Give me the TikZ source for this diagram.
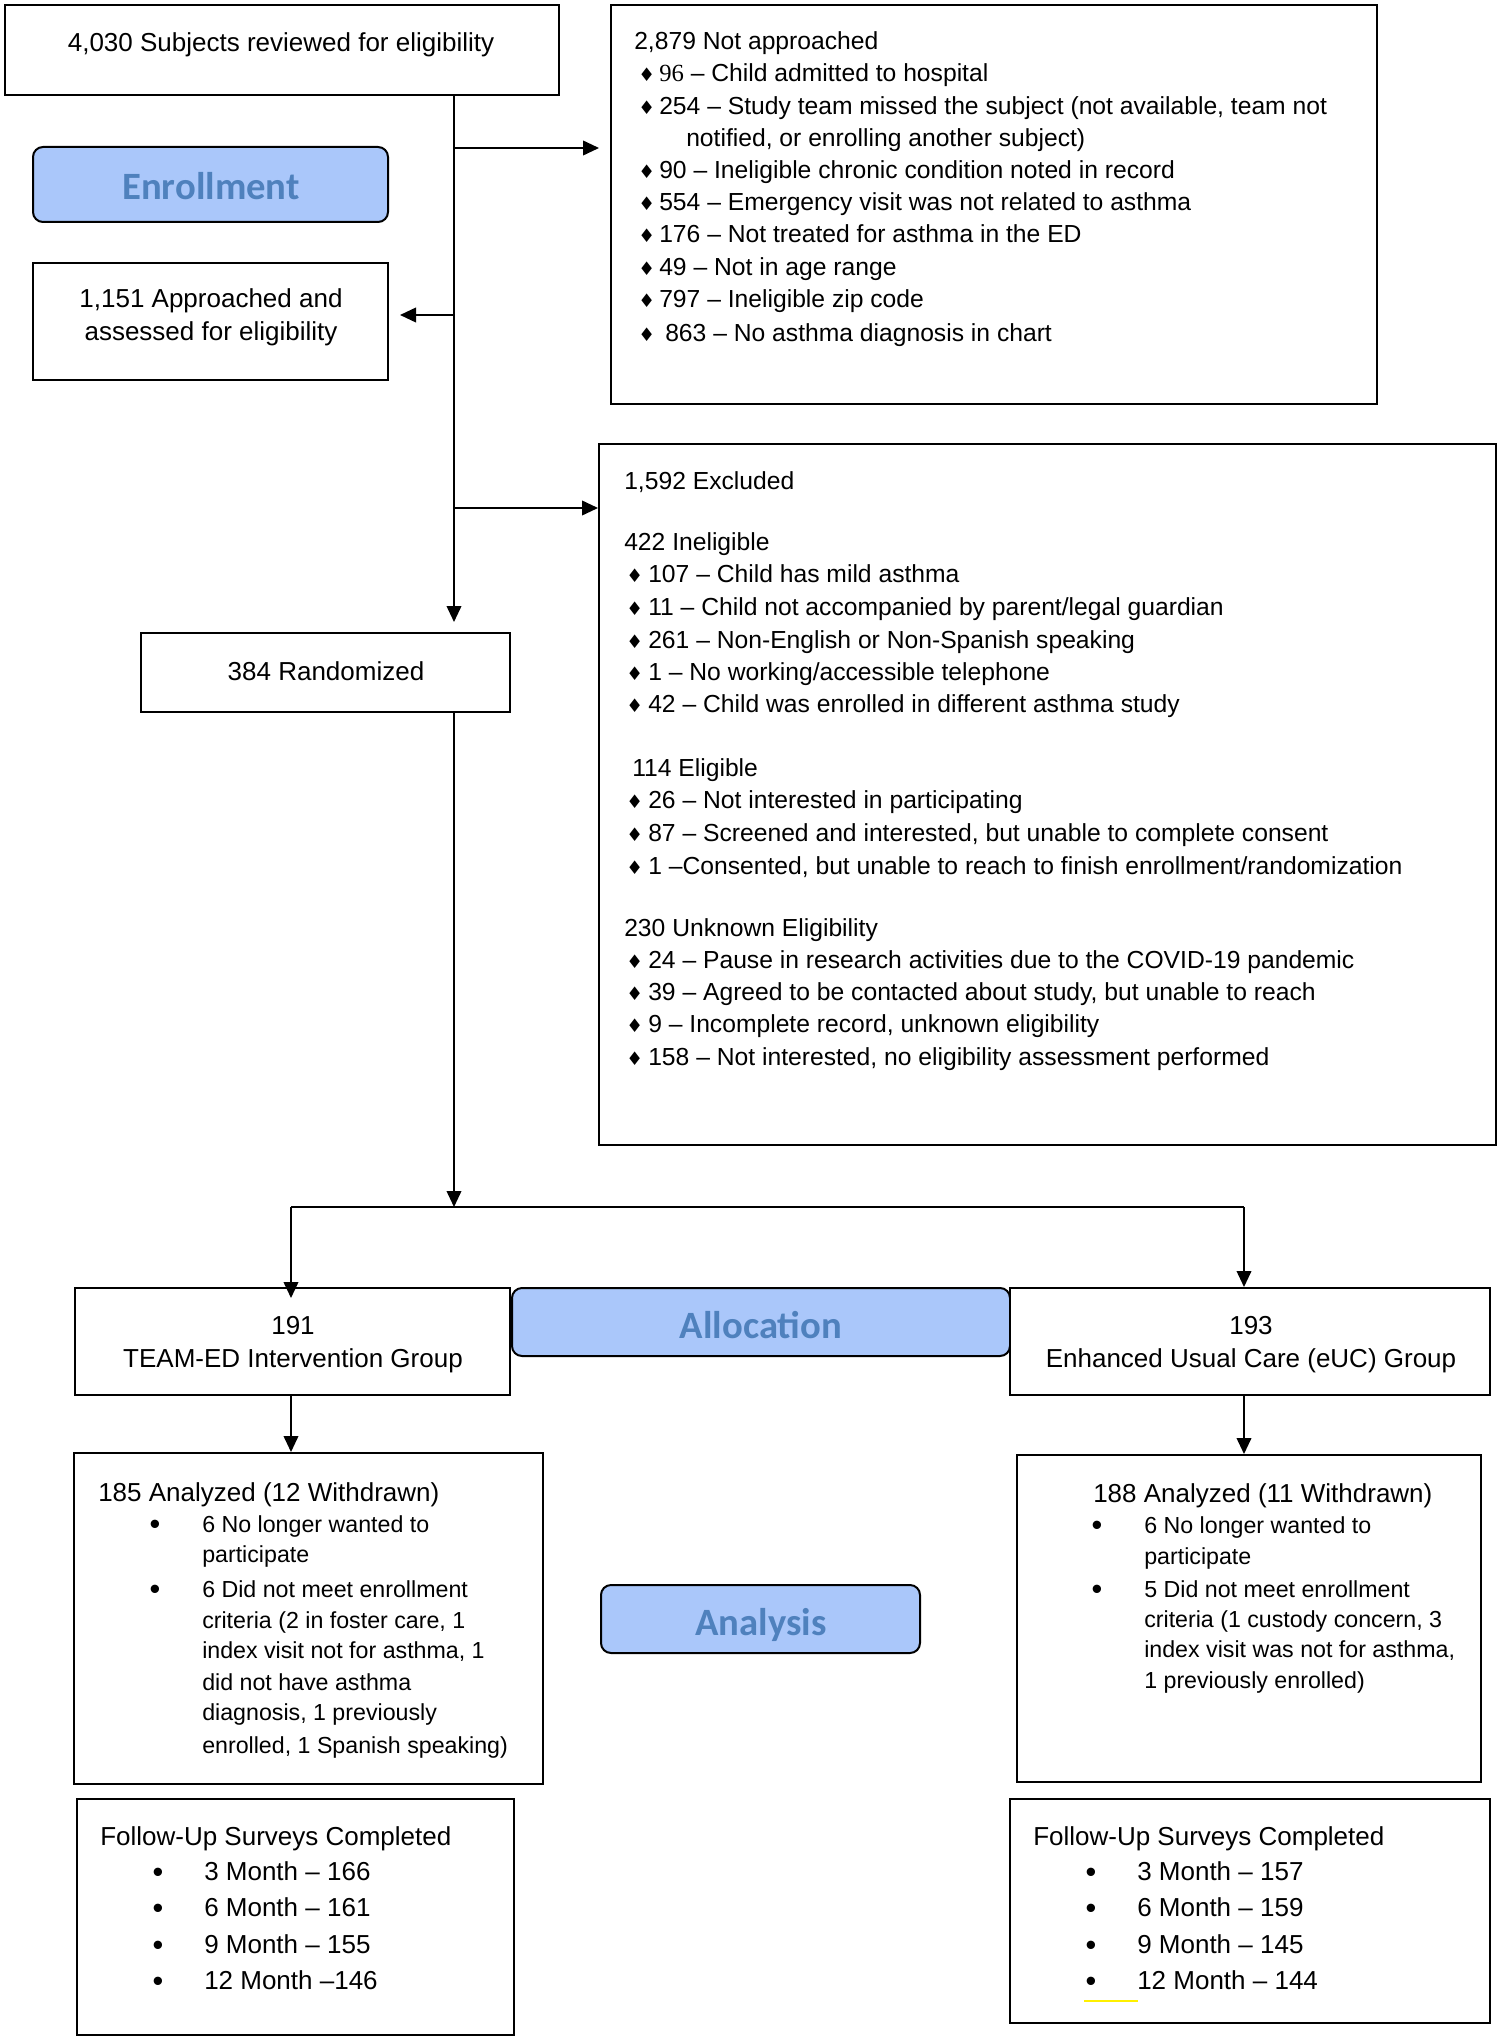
\documentclass[tikz,border=0pt]{standalone}
\usepackage{fontspec}
\setmainfont{Liberation Sans}
\newfontfamily\calib{Carlito}
\newfontfamily\dejavu{DejaVu Sans}
\newfontfamily\tnr{Liberation Serif}
\usetikzlibrary{arrows.meta,fit}
\definecolor{phasefill}{RGB}{170,199,250}
\definecolor{phasetext}{RGB}{79,129,189}
\definecolor{hilite}{RGB}{255,240,0}
\newcommand\fmain{\fontsize{19.5pt}{24pt}\selectfont}
\newcommand\fsmall{\fontsize{18.5pt}{24pt}\selectfont}
\newcommand\fitem{\fontsize{17.4pt}{22pt}\selectfont}
\newcommand\dmd{{\dejavu\fontsize{14pt}{14pt}\selectfont ♦}}
\newcommand\putl[4]{\node[tx] (#1) at (#2,#3) {#4};}
\newcommand\putc[4]{\node[ctx] (#1) at (#2,#3) {#4};}
\newcommand\dline[5]{\node[tx] (#1d) at (#2,#4) {\dmd}; \node[tx] (#1) at (#3,#4) {#5};}
\newcommand\bline[5]{\node[bul] (#1b) at (#2,#4) {•}; \node[tx] (#1) at (#3,#4) {#5};}
\tikzset{
  box/.style={draw=black, line width=1.5pt, inner sep=0pt, fill=white},
  phase/.style={draw=black, line width=1.5pt, inner sep=0pt, fill=phasefill, rounded corners=7.5pt},
  phasetxt/.style={inner sep=0pt, anchor=base, text=phasetext, font=\calib\bfseries\fontsize{29pt}{30pt}\selectfont},
  conn/.style={line width=1.3pt, -{Triangle[length=12pt,width=11pt]}},
  plain/.style={line width=1.3pt},
  tx/.style={inner sep=0pt, anchor=base west},
  ctx/.style={inner sep=0pt, anchor=base},
  bul/.style={inner sep=0pt, anchor=base, font=\fontsize{23pt}{23pt}\selectfont, yshift=-2.2pt},
}
\begin{document}
\begin{tikzpicture}[x=0.75pt, y=-0.75pt]
\useasboundingbox (0,0) rectangle (1501,2040);
\fill[white] (0,0) rectangle (1501,2040);

% boxes
\node[box, fit={(5,5) (559,95)}] (A) {};
\node[box, fit={(611,5) (1377,404)}] (B) {};
\node[phase, fit={(33,147) (388,222)}] (enr) {};
\node[box, fit={(33,263) (388,380)}] (C) {};
\node[box, fit={(599,444) (1496,1145)}] (D) {};
\node[box, fit={(141,633) (510,712)}] (E) {};
\node[box, fit={(75,1288) (510,1395)}] (F) {};
\node[phase, fit={(512,1288) (1010,1356)}] (alloc) {};
\node[box, fit={(1010,1288) (1490,1395)}] (G) {};
\node[box, fit={(74,1453) (543,1784)}] (H) {};
\node[box, fit={(1017,1455) (1481,1782)}] (I) {};
\node[phase, fit={(601,1585) (920,1653)}] (anal) {};
\node[box, fit={(77,1799) (514,2035)}] (J) {};
\node[box, fit={(1010,1799) (1490,2023)}] (K) {};

% phase labels
\node[phasetxt] (enrT) at (211,200) {Enrollment};
\node[phasetxt] (allocT) at (761,1338) {Allocation};
\node[phasetxt] (analT) at (761,1635) {Analysis};

% centred texts
\begin{scope}[every node/.append style={font=\fmain}]
\putc{a1}{281}{52}{4,030 Subjects reviewed for eligibility}
\putc{c1}{211}{308}{1,151 Approached and}
\putc{c2}{211}{340}{assessed for eligibility}
\putc{e1}{326}{680}{384 Randomized}
\putc{f1}{293}{1334}{191}
\putc{f2}{293}{1367}{TEAM-ED Intervention Group}
\putc{g1}{1251}{1334}{193}
\putc{g2}{1251}{1367}{Enhanced Usual Care (eUC) Group}
\putl{h0}{98}{1501}{185 Analyzed (12 Withdrawn)}
\putl{i0}{1093}{1502}{188 Analyzed (11 Withdrawn)}
\putl{j0}{100}{1845}{Follow-Up Surveys Completed}
\bline{j1}{158}{204}{1880}{3 Month – 166}
\bline{j2}{158}{204}{1916}{6 Month – 161}
\bline{j3}{158}{204}{1953}{9 Month – 155}
\bline{j4}{158}{204}{1989}{12 Month –146}
\putl{k0}{1033}{1845}{Follow-Up Surveys Completed}
\bline{k1}{1091}{1137}{1880}{3 Month – 157}
\bline{k2}{1091}{1137}{1916}{6 Month – 159}
\bline{k3}{1091}{1137}{1953}{9 Month – 145}
\bline{k4}{1091}{1137}{1989}{12 Month – 144}
\end{scope}

% box B
\begin{scope}[every node/.append style={font=\fsmall}]
\putl{b0}{634}{50}{2,879 Not approached}
\dline{b1}{638}{659}{82}{{\tnr 96} – Child admitted to hospital}
\dline{b2}{638}{659}{115}{254 – Study team missed the subject (not available, team not}
\putl{b3}{686}{147}{notified, or enrolling another subject)}
\dline{b4}{638}{659}{179}{90 – Ineligible chronic condition noted in record}
\dline{b5}{638}{659}{211}{554 – Emergency visit was not related to asthma}
\dline{b6}{638}{659}{243}{176 – Not treated for asthma in the ED}
\dline{b7}{638}{659}{276}{49 – Not in age range}
\dline{b8}{638}{659}{308}{797 – Ineligible zip code}
\dline{b9}{638}{665}{342}{863 – No asthma diagnosis in chart}

% box D
\putl{d0}{624}{489}{1,592 Excluded}
\putl{d1}{624}{550}{422 Ineligible}
\dline{d2}{626}{648}{582}{107 – Child has mild asthma}
\dline{d3}{626}{648}{615}{11 – Child not accompanied by parent/legal guardian}
\dline{d4}{626}{648}{648}{261 – Non-English or Non-Spanish speaking}
\dline{d5}{626}{648}{680}{1 – No working/accessible telephone}
\dline{d6}{626}{648}{712}{42 – Child was enrolled in different asthma study}
\putl{d7}{632}{776}{114 Eligible}
\dline{d8}{626}{648}{808}{26 – Not interested in participating}
\dline{d9}{626}{648}{841}{87 – Screened and interested, but unable to complete consent}
\dline{d10}{626}{648}{874}{1 –Consented, but unable to reach to finish enrollment/randomization}
\putl{d11}{624}{936}{230 Unknown Eligibility}
\dline{d12}{626}{648}{968}{24 – Pause in research activities due to the COVID-19 pandemic}
\dline{d13}{626}{648}{1000}{39 – Agreed to be contacted about study, but unable to reach}
\dline{d14}{626}{648}{1032}{9 – Incomplete record, unknown eligibility}
\dline{d15}{626}{648}{1065}{158 – Not interested, no eligibility assessment performed}
\end{scope}

% boxes H and I items
\begin{scope}[every node/.append style={font=\fitem}]
\bline{h1}{155}{202}{1532}{6 No longer wanted to}
\putl{h2}{202}{1562}{participate}
\bline{h3}{155}{202}{1597}{6 Did not meet enrollment}
\putl{h4}{202}{1628}{criteria (2 in foster care, 1}
\putl{h5}{202}{1658}{index visit not for asthma, 1}
\putl{h6}{202}{1690}{did not have asthma}
\putl{h7}{202}{1720}{diagnosis, 1 previously}
\putl{h8}{202}{1753}{enrolled, 1 Spanish speaking)}
\bline{i1}{1097}{1144}{1533}{6 No longer wanted to}
\putl{i2}{1144}{1564}{participate}
\bline{i3}{1097}{1144}{1597}{5 Did not meet enrollment}
\putl{i4}{1144}{1627}{criteria (1 custody concern, 3}
\putl{i5}{1144}{1657}{index visit was not for asthma,}
\putl{i6}{1144}{1688}{1 previously enrolled)}
\end{scope}

% connector coordinates
\coordinate (s1) at (454,95);
\coordinate (e1) at (454,622);
\coordinate (j1) at (454,148);
\coordinate (bIn) at (599,148);
\coordinate (j2) at (454,315);
\coordinate (cIn) at (400,315);
\coordinate (j3) at (454,508);
\coordinate (sp) at (454,1207);
\coordinate (spL) at (291,1207);
\coordinate (spR) at (1244,1207);
\coordinate (fIn) at (291,1298);

\draw[conn] (s1) -- (e1);
\draw[conn] (j1) -- (bIn);
\draw[conn] (j2) -- (cIn);
\draw[conn] (j3) -- (j3 -| D.west);
\draw[conn] (E.south -| sp) -- (sp);
\draw[plain] (spL) -- (spR);
\draw[conn] (spL) -- (fIn);
\draw[conn] (spR) -- (spR |- G.north);
\draw[conn] (F.south -| spL) -- (H.north -| spL);
\draw[conn] (G.south -| spR) -- (I.north -| spR);

% highlight mark
\coordinate (y1) at (1084,2001);
\coordinate (y2) at (1138,2001);
\draw[hilite, line width=2.2pt] (y1) -- (y2);
\end{tikzpicture}
\end{document}
